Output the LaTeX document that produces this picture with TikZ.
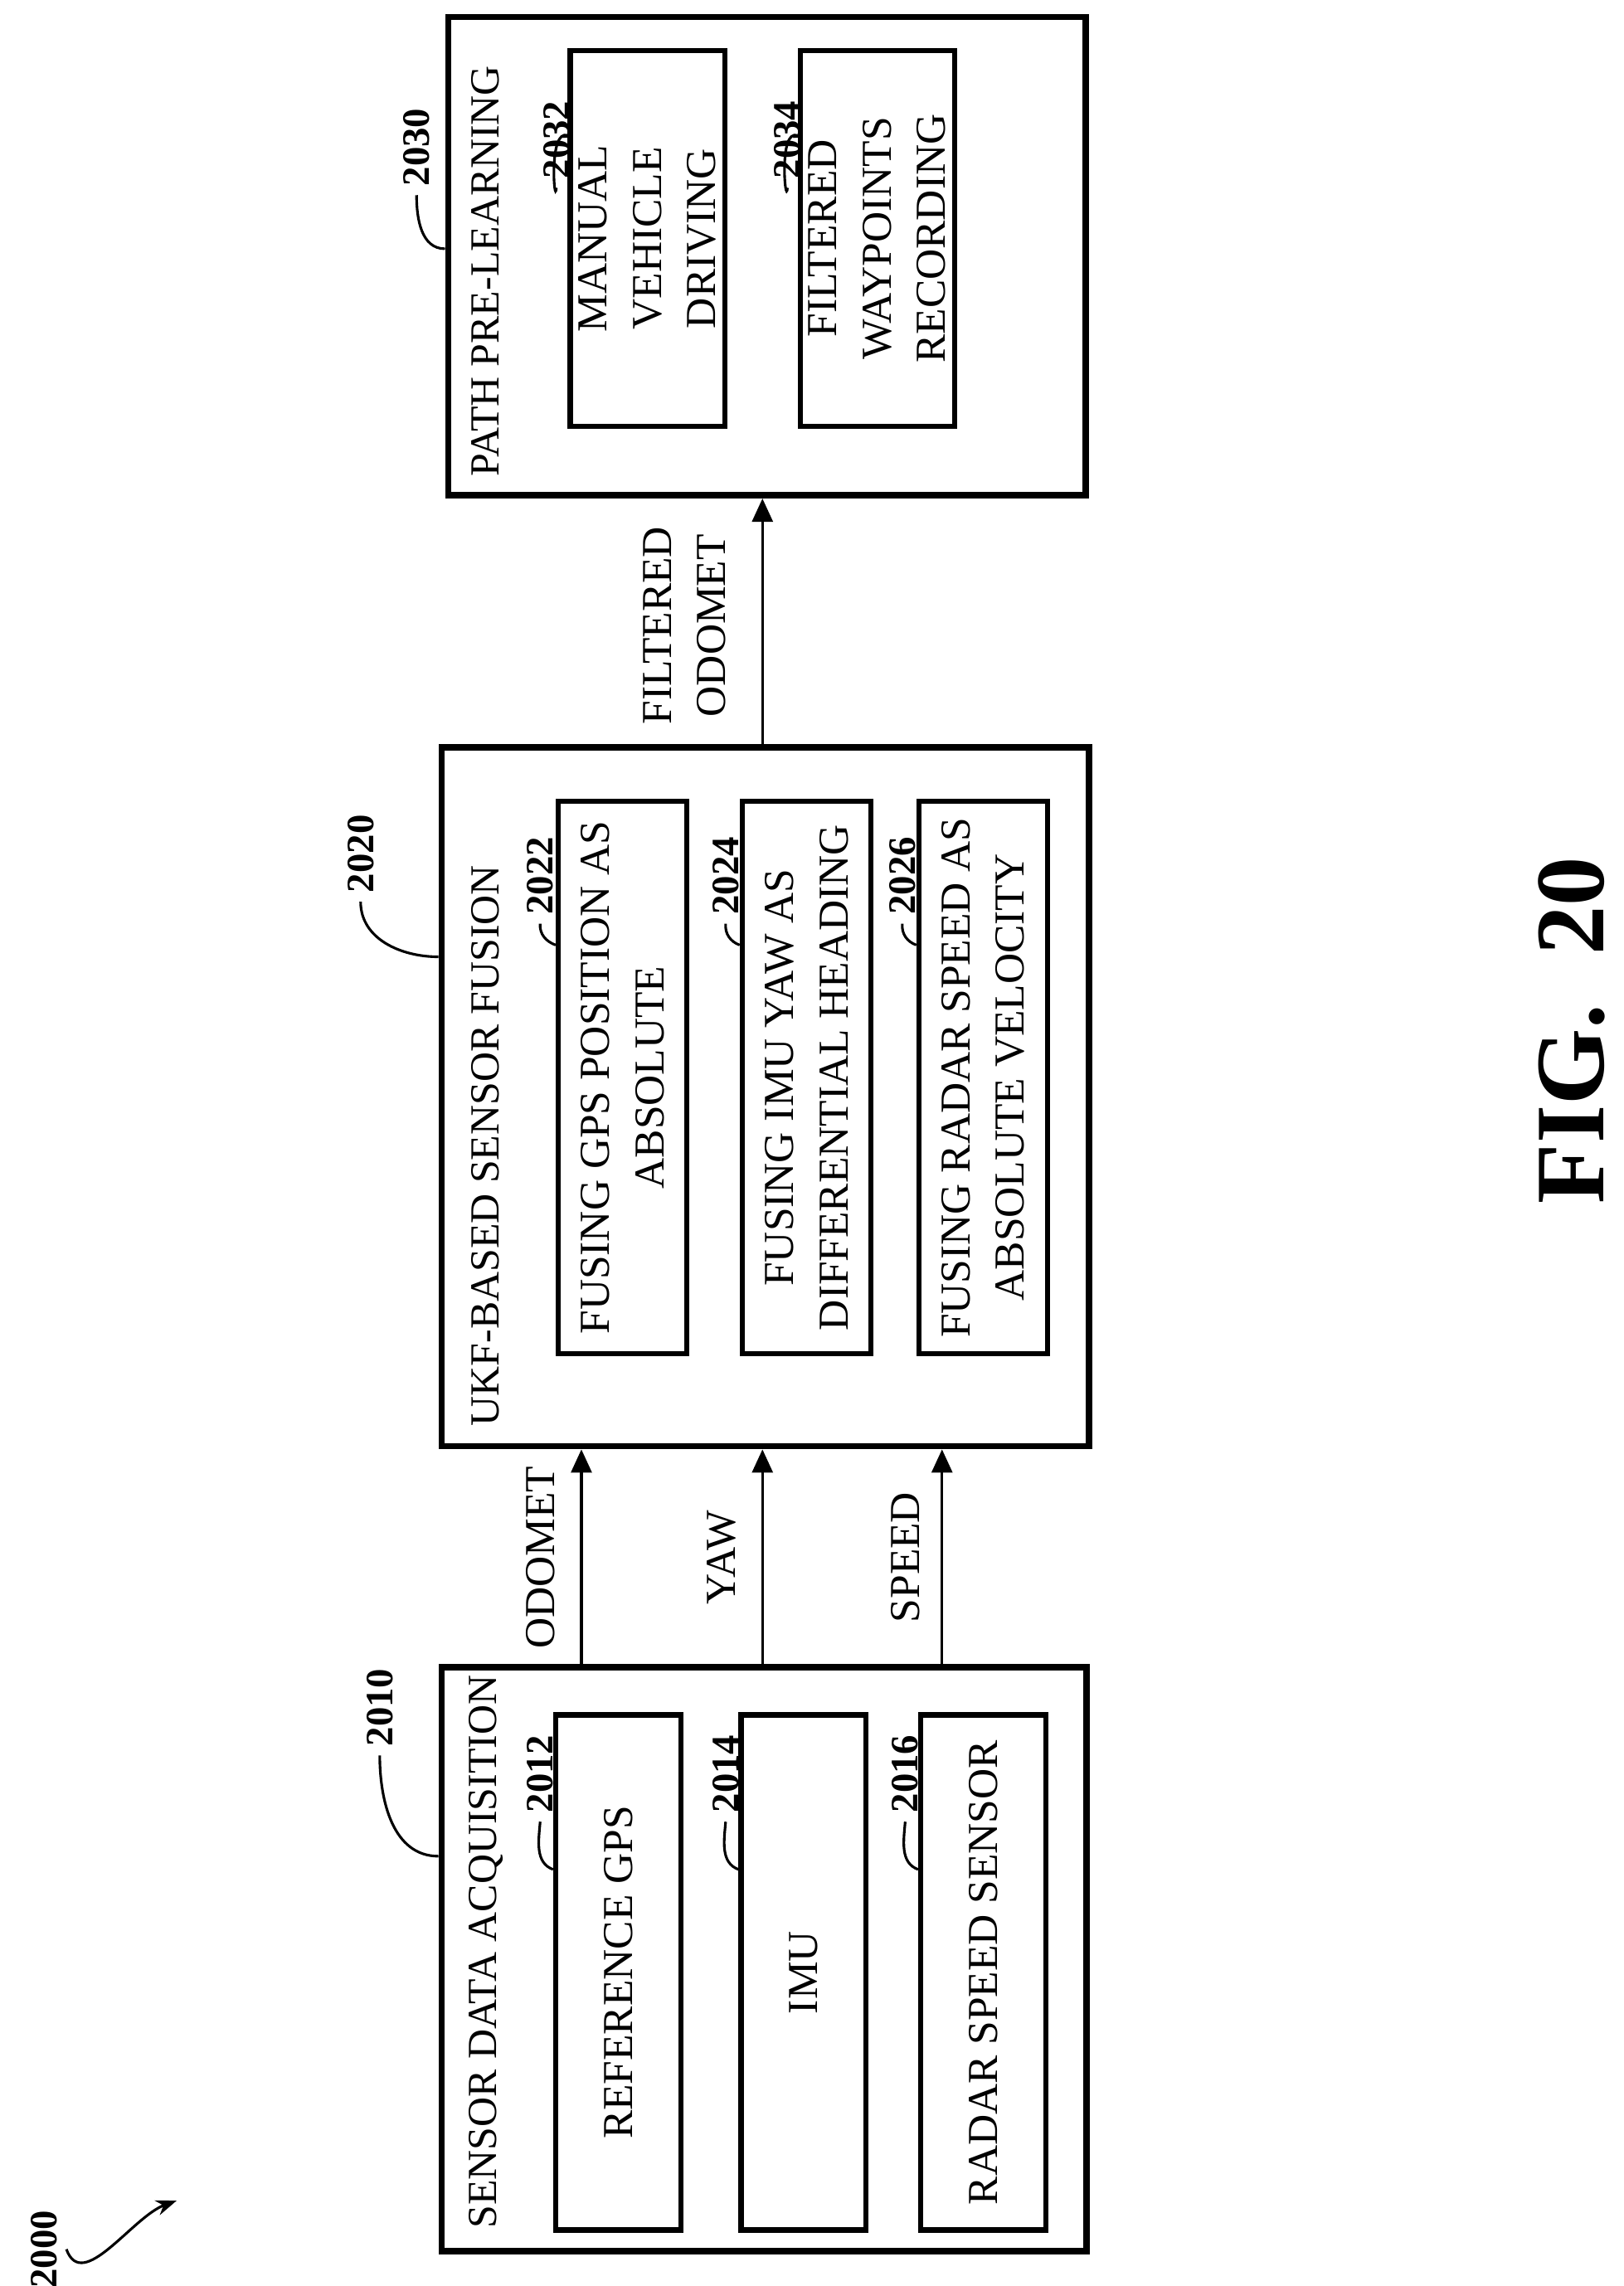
\documentclass[tikz,border=0pt]{standalone}
\usepackage{fontspec}
\setmainfont{Liberation Serif}
\usetikzlibrary{calc, arrows.meta}

\tikzset{
  outer/.style={rectangle, draw, line width=2.5pt, fill=white, rotate=90},
  inner/.style={rectangle, draw, line width=2pt, fill=white, rotate=90, align=center, font=\fontsize{16.5}{21}\selectfont},
  title/.style={rotate=90, anchor=west, font=\fontsize{16}{20}\selectfont},
  num/.style={rotate=90, font=\bfseries\fontsize{15}{18}\selectfont},
  lab/.style={rotate=90, align=center, font=\fontsize{16.5}{21}\selectfont},
  lead/.style={line width=1pt},
  flow/.style={line width=1pt, -{Triangle[length=9pt, width=8pt]}}
}

\begin{document}
\begin{tikzpicture}[x=0.02cm, y=-0.02cm]
\useasboundingbox (0,0) rectangle (1103,1553);
% outer boxes
\node[outer, minimum width=7.94cm, minimum height=8.76cm] (acq) at (519,1331) {};
\node[outer, minimum width=9.5cm, minimum height=8.8cm] (fus) at (520,745) {};
\node[outer, minimum width=6.5cm, minimum height=8.66cm] (pre) at (521,174) {};
\node[title] at (330,1520) {SENSOR DATA ACQUISITION};
\node[title] at (330,975) {UKF-BASED SENSOR FUSION};
\node[title] at (330,330) {PATH PRE-LEARNING};
% sensor data acquisition
\node[inner, minimum width=7.0cm, minimum height=1.7cm] (gps) at (420,1340) {REFERENCE GPS};
\node[inner, minimum width=7.0cm, minimum height=1.7cm] (imu) at (546,1340) {IMU};
\node[inner, minimum width=7.0cm, minimum height=1.7cm] (radar) at (668,1340) {RADAR SPEED SENSOR};
% sensor fusion
\node[inner, minimum width=7.5cm, minimum height=1.75cm] (fgps) at (423,732) {FUSING GPS POSITION AS\\ABSOLUTE};
\node[inner, minimum width=7.5cm, minimum height=1.75cm] (fimu) at (548,732) {FUSING IMU YAW AS\\DIFFERENTIAL HEADING};
\node[inner, minimum width=7.5cm, minimum height=1.75cm] (fradar) at (668,732) {FUSING RADAR SPEED AS\\ABSOLUTE VELOCITY};
% path pre-learning
\node[inner, minimum width=5.1cm, minimum height=1.95cm] (manual) at (440,162) {MANUAL\\VEHICLE\\DRIVING};
\node[inner, minimum width=5.1cm, minimum height=1.95cm] (record) at (596,162) {FILTERED\\WAYPOINTS\\RECORDING};
% connectors
\coordinate (c1) at (395,1331);
\coordinate (c2) at (518,1331);
\coordinate (c3) at (640,1331);
\draw[flow] (c1 |- acq.east) -- (c1 |- fus.west);
\draw[flow] (c2 |- acq.east) -- (c2 |- fus.west);
\draw[flow] (c3 |- acq.east) -- (c3 |- fus.west);
\draw[flow] (c2 |- fus.east) -- (c2 |- pre.west);
\node[lab] (odo) at (367,1058) {ODOMET};
\node[lab] (yaw) at (490,1058) {YAW};
\node[lab] (spd) at (615,1058) {SPEED};
\node[lab] (fodo) at (465,425) {FILTERED\\ODOMET};
% reference numerals
\node[num] (n2010) at (258,1160) {2010};
\node[num] (n2020) at (245,580) {2020};
\node[num] (n2030) at (283,100) {2030};
\node[num] (n2012) at (367,1205) {2012};
\node[num] (n2014) at (493,1205) {2014};
\node[num] (n2016) at (615,1205) {2016};
\node[num] (n2022) at (367,595) {2022};
\node[num] (n2024) at (493,595) {2024};
\node[num] (n2026) at (613,595) {2026};
\node[num] (n2032) at (378,95) {2032};
\node[num] (n2034) at (535,95) {2034};
\node[num] (n2000) at (30,1528) {2000};
\draw[lead] (n2010.west) to[out=-90, in=180] ($(acq.north)+(0,-70)$);
\draw[lead] (n2020.west) to[out=-90, in=180] ($(fus.north)+(0,-95)$);
\draw[lead] (n2030.west) to[out=-90, in=180] ($(pre.north)+(0,-5)$);
\draw[lead] (n2012.west) to[out=-95, in=160] ($(gps.north)+(0,-70)$);
\draw[lead] (n2014.west) to[out=-95, in=160] ($(imu.north)+(0,-70)$);
\draw[lead] (n2016.west) to[out=-95, in=160] ($(radar.north)+(0,-70)$);
\draw[lead] (n2022.west) to[out=-95, in=160] ($(fgps.north)+(0,-90)$);
\draw[lead] (n2024.west) to[out=-95, in=160] ($(fimu.north)+(0,-90)$);
\draw[lead] (n2026.west) to[out=-95, in=160] ($(fradar.north)+(0,-90)$);
\draw[lead] (n2032.west) to[out=-95, in=160] ($(manual.north)+(0,-70)$);
\draw[lead] (n2034.west) to[out=-95, in=160] ($(record.north)+(0,-70)$);
\coordinate (p2000) at (120,1495);
\draw[lead, -{Stealth[length=8pt]}] (n2000.south) to[out=-70, in=200] (p2000);
\node[rotate=90, font=\bfseries\fontsize{38}{42}\selectfont] (fig) at (1068,700) {FIG.~~20};
\end{tikzpicture}
\end{document}
